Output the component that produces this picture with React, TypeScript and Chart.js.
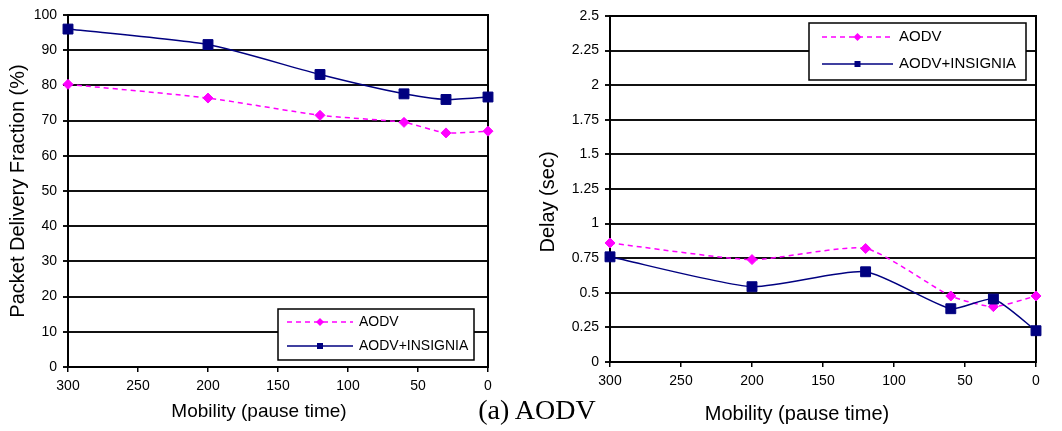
import React, { useEffect, useRef } from "react";
import { Chart, registerables } from "chart.js";

Chart.register(...registerables);

const FONT = '"Liberation Sans", Arial, sans-serif';

// ---- data ----
const pauseTimes = [300, 200, 120, 60, 30, 0];
const seriesNames = ["AODV", "AODV+INSIGNIA"];
const pdfAodv = [80.3, 76.4, 71.5, 69.5, 66.5, 67.0];
const pdfInsignia = [96.0, 91.6, 83.1, 77.6, 76.0, 76.7];
const delayAodv = [0.86, 0.74, 0.82, 0.477, 0.4, 0.477];
const delayInsignia = [0.76, 0.544, 0.652, 0.385, 0.455, 0.226];
const xTickValues = [0, 50, 100, 150, 200, 250, 300];
const pdfTickValues = [0, 10, 20, 30, 40, 50, 60, 70, 80, 90, 100];
const delayTickValues = [0, 0.25, 0.5, 0.75, 1, 1.25, 1.5, 1.75, 2, 2.25, 2.5];
const xTitleText = "Mobility (pause time)";
const pdfTitleText = "Packet Delivery Fraction (%)";
const delayTitleText = "Delay (sec)";
const captionText = "(a) AODV";

const decoPlugin = {
  id: "deco",
  beforeDatasetsDraw(chart: any) {
    const { ctx, chartArea: a } = chart;
    ctx.save();
    ctx.strokeStyle = "#000";
    ctx.lineWidth = 2;
    ctx.strokeRect(a.left, a.top, a.right - a.left, a.bottom - a.top);
    ctx.restore();
  },
  afterDraw(chart: any, _args: any, opts: any) {
    const { ctx, chartArea: a } = chart;
    ctx.save();
    const L = opts.legend;
    const bx = a.left + L.x;
    const by = a.top + L.y;
    ctx.fillStyle = "#fff";
    ctx.fillRect(bx, by, L.w, L.h);
    ctx.lineWidth = 1.5;
    ctx.strokeStyle = "#000";
    ctx.strokeRect(bx, by, L.w, L.h);
    chart.data.datasets.forEach((ds: any, i: number) => {
      const ry = by + L.rows[i];
      ctx.save();
      ctx.strokeStyle = ds.borderColor;
      ctx.lineWidth = ds.borderWidth;
      ctx.setLineDash(ds.borderDash || []);
      ctx.beginPath();
      ctx.moveTo(bx + L.sampleX, ry);
      ctx.lineTo(bx + L.sampleX + L.sampleLen, ry);
      ctx.stroke();
      ctx.setLineDash([]);
      const mx = bx + L.sampleX + L.sampleLen / 2;
      ctx.fillStyle = ds.pointBackgroundColor;
      ctx.beginPath();
      if (ds.pointStyle === "rectRot") {
        const r = L.diamond;
        ctx.moveTo(mx, ry - r);
        ctx.lineTo(mx + r, ry);
        ctx.lineTo(mx, ry + r);
        ctx.lineTo(mx - r, ry);
        ctx.closePath();
      } else {
        const s = L.square;
        ctx.rect(mx - s / 2, ry - s / 2, s, s);
      }
      ctx.fill();
      ctx.restore();
      ctx.fillStyle = "#000";
      ctx.font = `${L.fontSize}px ${FONT}`;
      ctx.textBaseline = "middle";
      ctx.textAlign = "left";
      ctx.fillText(ds.label, bx + L.textX, ry);
    });
    // x title
    const xt = opts.xTitle;
    ctx.fillStyle = "#000";
    ctx.font = `${xt.size}px ${FONT}`;
    ctx.textAlign = "center";
    ctx.textBaseline = "middle";
    ctx.fillText(xt.text, (a.left + a.right) / 2 + xt.dx, a.bottom + xt.dy);
    // y title
    const yt = opts.yTitle;
    ctx.save();
    ctx.translate(yt.x, (a.top + a.bottom) / 2 + yt.dy);
    ctx.rotate(-Math.PI / 2);
    ctx.font = `${yt.size}px ${FONT}`;
    ctx.textAlign = "center";
    ctx.textBaseline = "middle";
    ctx.fillText(yt.text, 0, 0);
    ctx.restore();
    ctx.restore();
  },
};

type PanelProps = {
  left: number;
  width: number;
  aodv: number[];
  insignia: number[];
  yTicks: number[];
  yMax: number;
  padTop: number;
  padRight: number;
  yAxisW: number;
  xAxisH: number;
  tickSize: number;
  legend: any;
  xTitle: any;
  yTitle: any;
};

function Panel(p: PanelProps) {
  const ref = useRef<HTMLCanvasElement | null>(null);
  useEffect(() => {
    if (!ref.current) return;
    const mk = (vals: number[]) => pauseTimes.map((x, i) => ({ x, y: vals[i] }));
    const chart = new Chart(ref.current, {
      type: "line",
      data: {
        datasets: [
          {
            label: seriesNames[0],
            data: mk(p.aodv),
            borderColor: "#FF00FF",
            backgroundColor: "#FF00FF",
            borderWidth: 1.5,
            borderDash: [5, 4],
            pointStyle: "rectRot",
            pointRadius: 5,
            pointBackgroundColor: "#FF00FF",
            pointBorderColor: "#FF00FF",
            pointBorderWidth: 1,
            tension: 0.2,
            clip: false,
            order: 2,
          } as any,
          {
            label: seriesNames[1],
            data: mk(p.insignia),
            borderColor: "#000080",
            backgroundColor: "#000080",
            borderWidth: 1.5,
            pointStyle: "rect",
            pointRadius: 7,
            pointBackgroundColor: "#000080",
            pointBorderColor: "#000080",
            pointBorderWidth: 1,
            tension: 0.2,
            clip: false,
            order: 1,
          } as any,
        ],
      },
      options: {
        animation: false,
        responsive: false,
        maintainAspectRatio: false,
        layout: { padding: { top: p.padTop, right: p.padRight, left: 0, bottom: 0 } },
        plugins: {
          legend: { display: false },
          tooltip: { enabled: false },
          deco: { legend: p.legend, xTitle: p.xTitle, yTitle: p.yTitle },
        } as any,
        scales: {
          x: {
            type: "linear",
            reverse: true,
            min: 0,
            max: 300,
            afterBuildTicks: (s: any) => {
              s.ticks = xTickValues.map((v) => ({ value: v }));
            },
            afterFit: (s: any) => {
              s.height = p.xAxisH;
            },
            grid: { drawOnChartArea: false, drawTicks: true, tickLength: 5, color: "#000", lineWidth: 1.5 },
            border: { display: true, color: "#000", width: 2 },
            ticks: {
              padding: 6,
              color: "#000",
              font: { family: FONT, size: p.tickSize },
              maxRotation: 0,
              autoSkip: false,
              callback: (v: any) => String(v),
            },
          },
          y: {
            type: "linear",
            min: 0,
            max: p.yMax,
            afterBuildTicks: (s: any) => {
              s.ticks = p.yTicks.map((v) => ({ value: v }));
            },
            afterFit: (s: any) => {
              s.width = p.yAxisW;
            },
            grid: { color: "#111", lineWidth: 2, tickLength: 5 },
            border: { display: true, color: "#000", width: 2 },
            ticks: {
              padding: 6,
              color: "#000",
              font: { family: FONT, size: p.tickSize },
              autoSkip: false,
              callback: (v: any) => String(v),
            },
          },
        },
      } as any,
      plugins: [decoPlugin as any],
    });
    return () => chart.destroy();
  }, []);
  return (
    <div style={{ position: "absolute", left: p.left, top: 0, width: p.width, height: 431 }}>
      <canvas ref={ref} width={p.width} height={431} style={{ width: p.width, height: 431, display: "block" }} />
    </div>
  );
}

export default function App() {
  return (
    <div style={{ position: "absolute", left: 0, top: 0, width: 1062, height: 431, background: "#fff", overflow: "hidden" }}>
      <Panel
        left={0}
        width={500}
        aodv={pdfAodv}
        insignia={pdfInsignia}
        yTicks={pdfTickValues}
        yMax={100}
        padTop={15}
        padRight={12}
        yAxisW={68}
        xAxisH={64}
        tickSize={14}
        legend={{ x: 210, y: 294, w: 196, h: 51, rows: [13, 37], sampleX: 9, sampleLen: 66, textX: 81, fontSize: 14, diamond: 4, square: 6 }}
        xTitle={{ text: xTitleText, size: 19, dx: -19, dy: 45 }}
        yTitle={{ text: pdfTitleText, size: 20, x: 18, dy: 0 }}
      />
      <Panel
        left={530}
        width={532}
        aodv={delayAodv}
        insignia={delayInsignia}
        yTicks={delayTickValues}
        yMax={2.5}
        padTop={16}
        padRight={26}
        yAxisW={80}
        xAxisH={69}
        tickSize={14}
        legend={{ x: 199, y: 7, w: 217, h: 57, rows: [14, 41], sampleX: 13, sampleLen: 71, textX: 90, fontSize: 15, diamond: 4, square: 6 }}
        xTitle={{ text: xTitleText, size: 20, dx: -26, dy: 52 }}
        yTitle={{ text: delayTitleText, size: 20, x: 18, dy: 13 }}
      />
      <div
        style={{
          position: "absolute",
          left: 537,
          top: 396,
          transform: "translateX(-50%)",
          fontFamily: '"Liberation Serif", "Times New Roman", serif',
          fontSize: 28,
          lineHeight: "28px",
          whiteSpace: "nowrap",
          color: "#000",
        }}
      >
        {captionText}
      </div>
    </div>
  );
}
